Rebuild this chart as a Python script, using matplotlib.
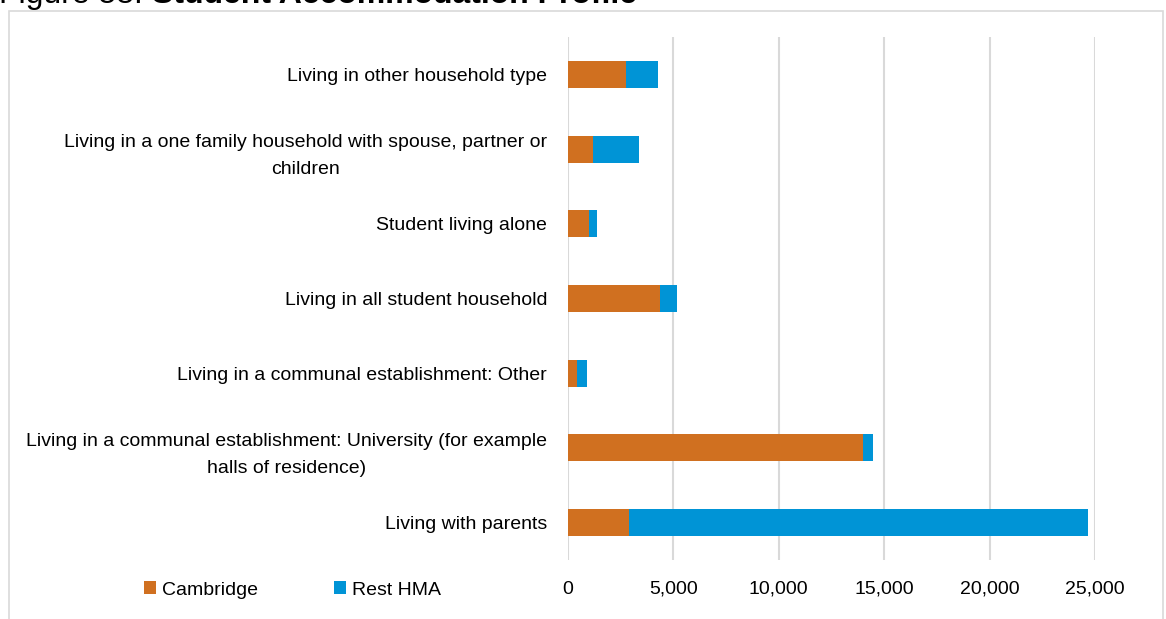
#!/usr/bin/env python3
"""
Student accommodation profile - stacked horizontal bar chart.
"""

import matplotlib
matplotlib.use('Agg')
import matplotlib.pyplot as plt
from matplotlib.patches import Rectangle
from matplotlib.ticker import FuncFormatter

# categories from top to bottom as shown
categories = [
    "Living in other household type",
    "Living in a one family household with spouse, partner or\nchildren",
    "Student living alone",
    "Living in all student household",
    "Living in a communal establishment: Other",
    "Living in a communal establishment: University (for example\nhalls of residence)",
    "Living with parents",
]
cambridge = [2765, 1165, 980, 4385, 435, 13990, 2890]
rest_hma = [1495, 2180, 400, 800, 490, 470, 21770]
series_names = ["Cambridge", "Rest HMA"]
x_ticks = [0, 5000, 10000, 15000, 20000, 25000]

ORANGE = "#D07020"
BLUE = "#0094D6"
GRID = "#D9D9D9"
FS = 14

plt.rcParams['font.family'] = ['Liberation Sans', 'DejaVu Sans']

W, H = 1166, 619
fig = plt.figure(figsize=(W / 100, H / 100), dpi=100)

# chart frame
fig.patches.append(Rectangle((9 / W, -0.1), (1163 - 9) / W, 1.1 - 11 / H,
                             transform=fig.transFigure, fill=False,
                             edgecolor=GRID, linewidth=1.2))

# title (cut off at the top edge in the original)
fig.text(-1 / W, 1 - 3 / H, "Figure 58:", fontsize=23, va='baseline', ha='left')
fig.text(152 / W, 1 - 3 / H, "Student Accommodation Profile", fontsize=23,
         fontweight='bold', va='baseline', ha='left')

ax = fig.add_axes([568 / W, 1 - 560 / H, (1095 - 568) / W, (560 - 37) / H])

pos = list(range(len(categories)))
ax.barh(pos, cambridge, height=0.36, color=ORANGE, label=series_names[0], zorder=3)
ax.barh(pos, rest_hma, left=cambridge, height=0.36, color=BLUE,
        label=series_names[1], zorder=3)

ax.set_ylim(len(categories) - 0.5, -0.5)
ax.set_xlim(0, 25000)
ax.set_xticks(x_ticks)
ax.xaxis.set_major_formatter(FuncFormatter(lambda v, p: f"{int(v):,}"))
ax.set_yticks(pos)
ax.set_yticklabels(categories, multialignment='center', linespacing=1.75)

ax.grid(axis='x', color=GRID, linewidth=1.5, zorder=0)
for s in ax.spines.values():
    s.set_visible(False)
ax.tick_params(axis='both', length=0, labelsize=FS, colors='black')
ax.tick_params(axis='x', pad=15)
ax.tick_params(axis='y', pad=15)

fig.legend(loc='center left', bbox_to_anchor=(144 / W, 1 - 590 / H), ncol=2,
           frameon=False, fontsize=FS, handlelength=0.62, handleheight=0.62,
           handletextpad=0.31, columnspacing=3.9, borderaxespad=0, borderpad=0)

plt.savefig("out.png", dpi=100)
plt.close()
